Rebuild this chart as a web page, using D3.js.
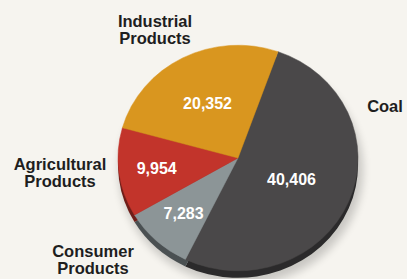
<!DOCTYPE html>
<html>
<head>
<meta charset="utf-8">
<script src="https://cdn.jsdelivr.net/npm/d3@7"></script>
<style>
  html, body { margin: 0; padding: 0; background: #f6f4ef; }
  svg { display: block; }
  text { font-family: "Liberation Sans", Arial, sans-serif; font-weight: bold; }
</style>
</head>
<body>
<div id="chart"></div>
<script>
// data, in clockwise order starting at the coal / industrial boundary
const categories = ["Coal", "Consumer Products", "Agricultural Products", "Industrial Products"];
const values = [40406, 7283, 9954, 20352];
const valueLabels = ["40,406", "7,283", "9,954", "20,352"];

// layout
const width = 407;
const height = 279;
const cx = 238, cy = 158;
const radius = 120;
const squash = 0.94; // slight tilt of the disc
const depth = 7;
const startDeg = 19.5;

const colors = ["#4a4849", "#8c9597", "#c2342b", "#d9961f"];
const rimColors = ["#2b2a2b", "#4a5052", "#6e1d18", "#7a5510"];
const valueRadius = [58, 80, 82, 66];
// label anchor offsets from the centre (px), per category
const labelPos = [[147, -46], [-145, 99], [-178, 12], [-83, -131]];

const svg = d3.select("#chart").append("svg")
  .attr("width", width)
  .attr("height", height);

const pie = d3.pie()
  .sort(null)
  .value((d) => d)
  .startAngle(startDeg * Math.PI / 180)
  .endAngle(startDeg * Math.PI / 180 + 2 * Math.PI);

const arcs = pie(values);
const arc = d3.arc().innerRadius(0).outerRadius(radius);

// soft shadow
const defs = svg.append("defs");
defs.append("filter").attr("id", "blur")
  .attr("x", "-20%").attr("y", "-20%").attr("width", "140%").attr("height", "140%")
  .append("feGaussianBlur").attr("stdDeviation", 4);

svg.append("ellipse")
  .attr("cx", cx + 3)
  .attr("cy", cy + depth + 5)
  .attr("rx", radius + 2)
  .attr("ry", radius * squash + 2)
  .attr("fill", "#000")
  .attr("opacity", 0.18)
  .attr("filter", "url(#blur)");

// rim (disc thickness)
svg.append("g")
  .attr("transform", `translate(${cx},${cy + depth}) scale(1,${squash})`)
  .selectAll("path")
  .data(arcs)
  .join("path")
  .attr("d", arc)
  .attr("fill", (d, i) => rimColors[i]);

// top face
svg.append("g")
  .attr("transform", `translate(${cx},${cy}) scale(1,${squash})`)
  .selectAll("path")
  .data(arcs)
  .join("path")
  .attr("d", arc)
  .attr("fill", (d, i) => colors[i])
  .attr("stroke", (d, i) => colors[i])
  .attr("stroke-width", 0.5);

// value labels
svg.append("g")
  .selectAll("text")
  .data(arcs)
  .join("text")
  .attr("x", (d, i) => {
    const a = (d.startAngle + d.endAngle) / 2;
    return cx + Math.sin(a) * valueRadius[i];
  })
  .attr("y", (d, i) => {
    const a = (d.startAngle + d.endAngle) / 2;
    return cy - Math.cos(a) * valueRadius[i] * squash + 6;
  })
  .attr("text-anchor", "middle")
  .attr("font-size", 16)
  .attr("fill", "#fff")
  .text((d, i) => valueLabels[i]);

// category labels
const lab = svg.append("g")
  .selectAll("text")
  .data(categories)
  .join("text")
  .attr("text-anchor", "middle")
  .attr("font-size", 16.5)
  .attr("fill", "#1e1e1e")
  .attr("transform", (d, i) => `translate(${cx + labelPos[i][0]},${cy + labelPos[i][1]})`);

lab.selectAll("tspan")
  .data((d) => d.split(" "))
  .join("tspan")
  .attr("x", 0)
  .attr("dy", (d, i) => (i === 0 ? 0 : 16.5))
  .text((d) => d);
</script>
</body>
</html>
